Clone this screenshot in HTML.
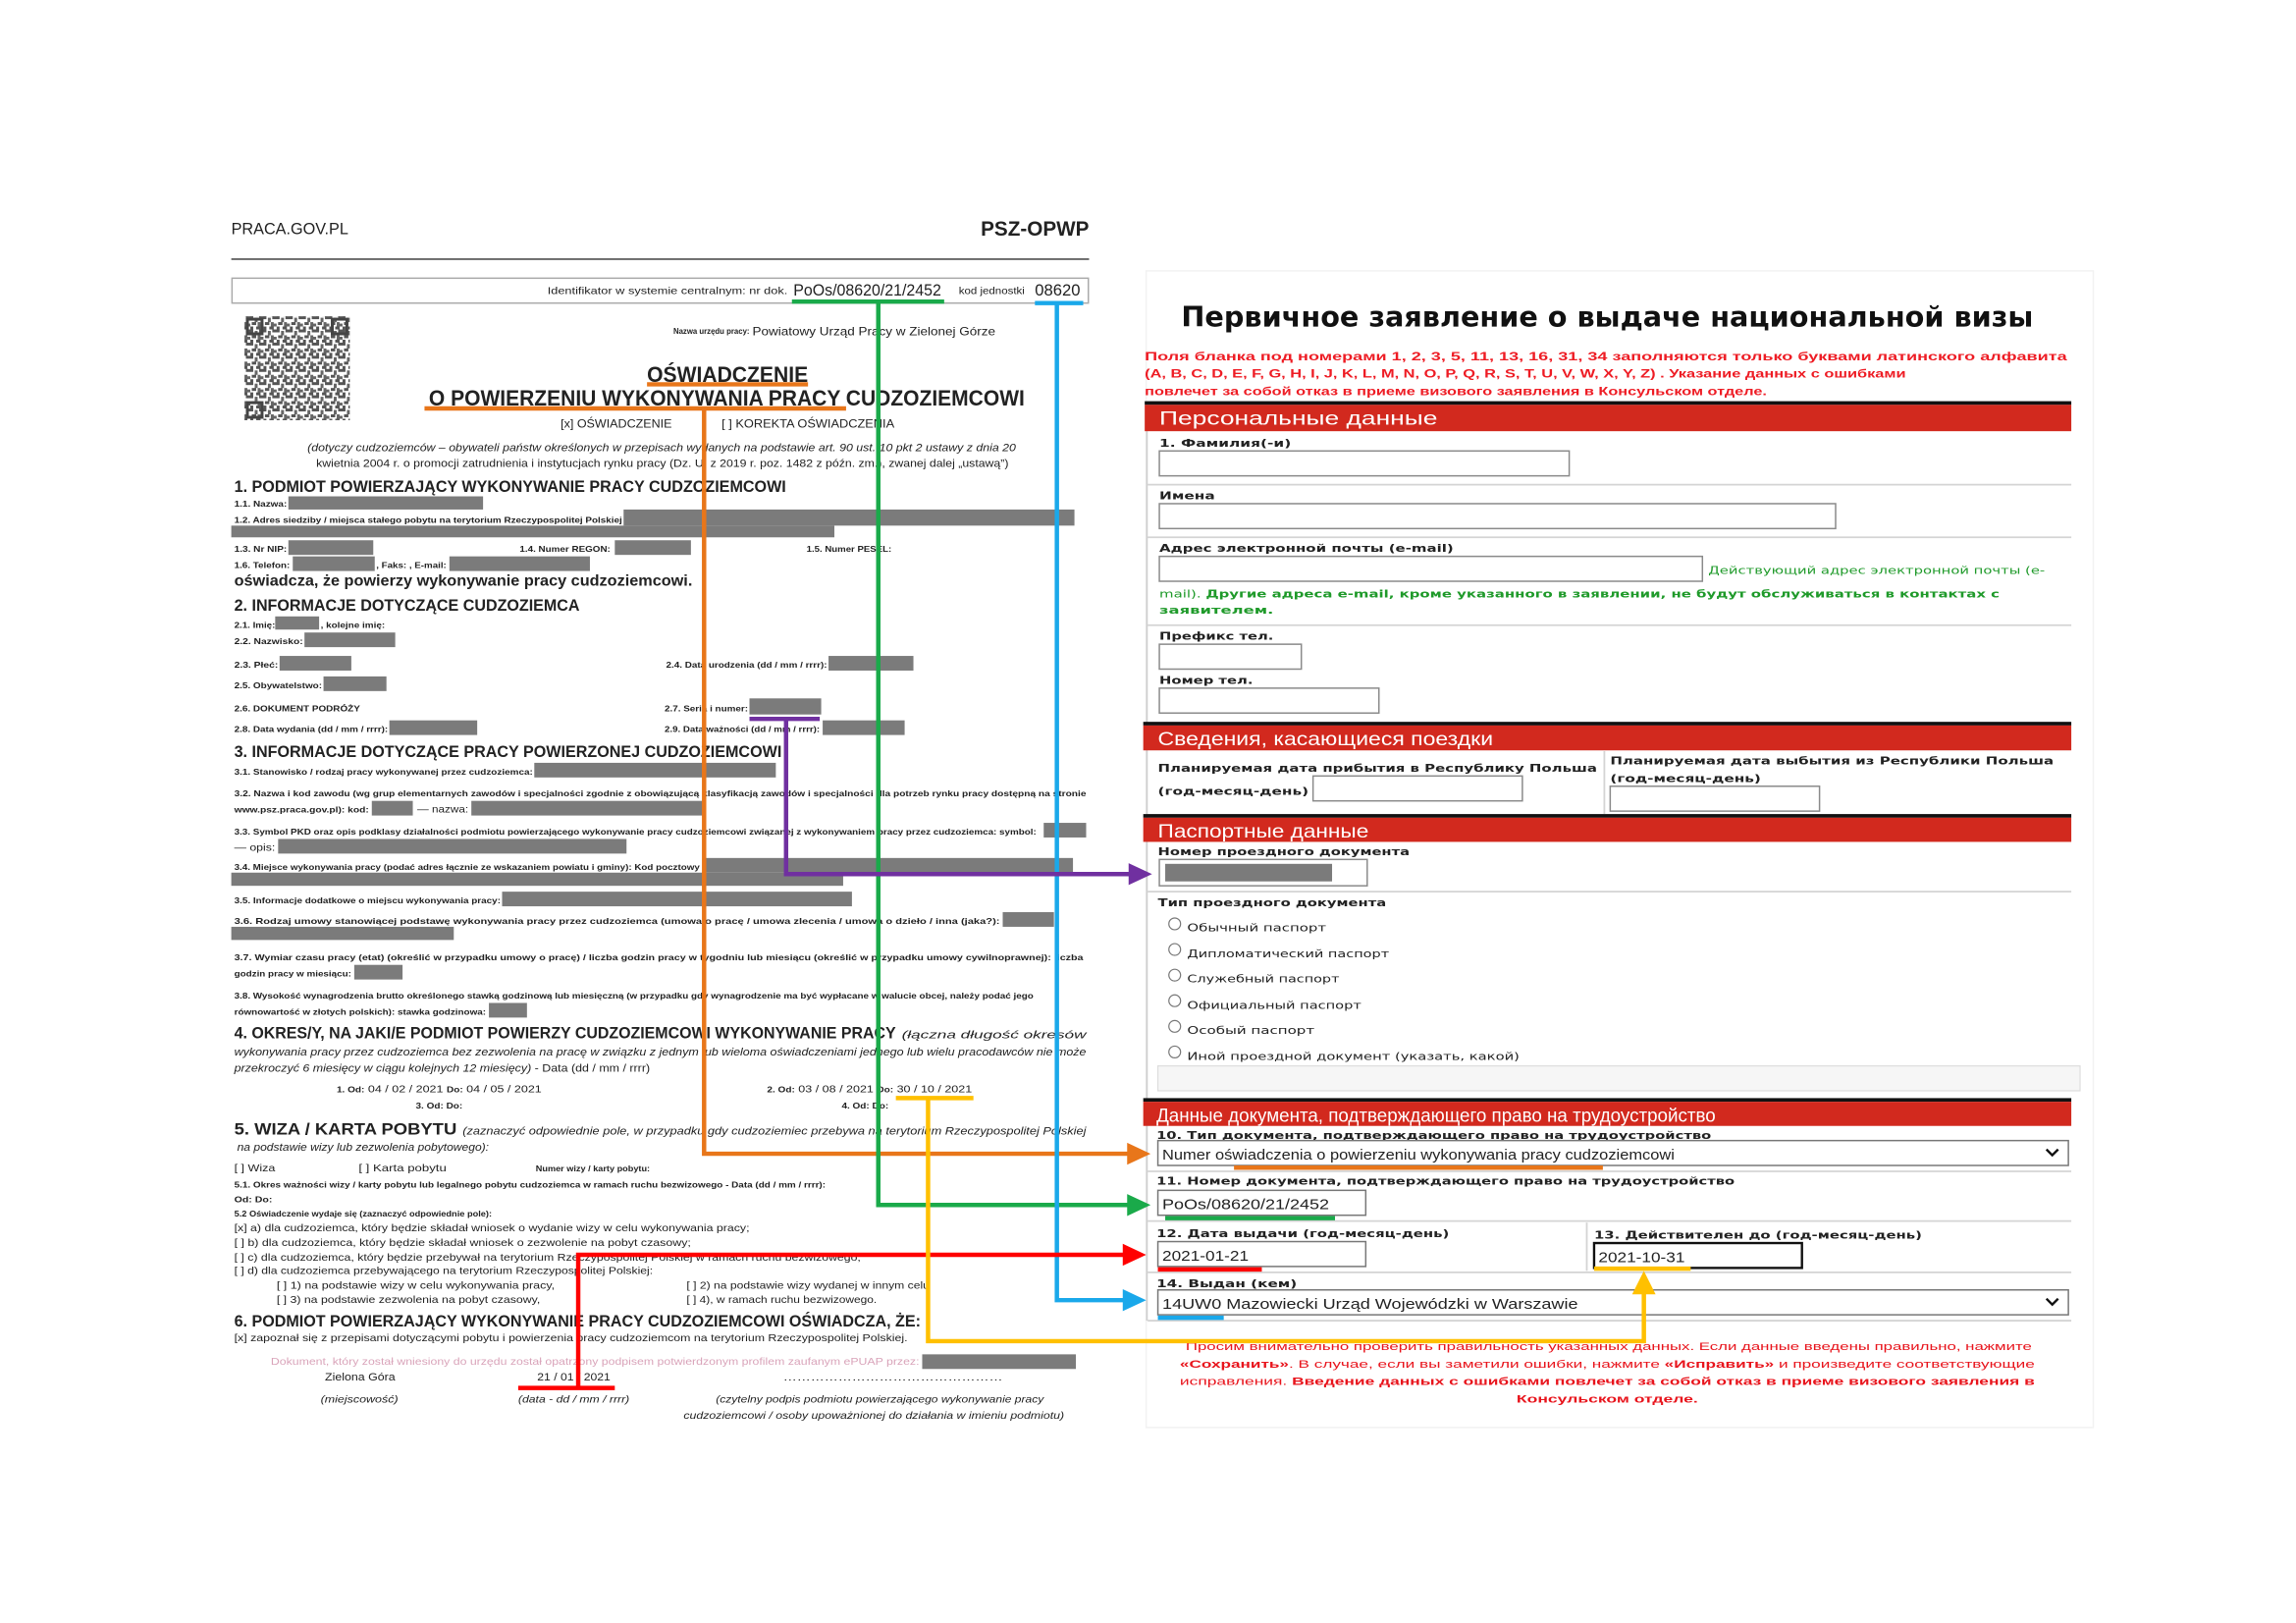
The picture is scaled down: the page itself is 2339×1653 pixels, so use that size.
<!DOCTYPE html>
<html><head><meta charset="utf-8"><style>
html,body{margin:0;padding:0;background:#fff;width:2339px;height:1653px;overflow:hidden}
svg{display:block}
text{font-family:"Liberation Sans","DejaVu Sans",sans-serif;fill:#222}
.b{font-weight:bold}
.i{font-style:italic}
.g{fill:#7b7b7b}
.lb{font-size:5.6px;font-weight:bold}
.rf{font-family:"DejaVu Sans","Liberation Sans",sans-serif}
.rl{font-family:"DejaVu Sans","Liberation Sans",sans-serif;font-size:7.3px;font-weight:bold;fill:#222}
.inp{fill:#fff;stroke:#8a8a8a;stroke-width:1}
.sep{stroke:#d4d4d4;stroke-width:1.2}
.hd{font-family:"Liberation Sans",sans-serif;font-size:13px;fill:#fff}
</style></head><body>
<svg width="2339" height="1653" viewBox="0 0 1568.5 1108.5" preserveAspectRatio="none" xmlns="http://www.w3.org/2000/svg">
<defs>
<pattern id="qr" width="9" height="9" patternUnits="userSpaceOnUse">
<rect width="9" height="9" fill="#fff"/>
<rect x="0" y="0" width="2" height="2" fill="#555"/><rect x="3" y="1" width="2" height="3" fill="#666"/>
<rect x="6" y="0" width="3" height="2" fill="#555"/><rect x="1" y="4" width="3" height="2" fill="#555"/>
<rect x="5" y="4" width="2" height="3" fill="#666"/><rect x="0" y="7" width="2" height="2" fill="#555"/>
<rect x="4" y="7" width="3" height="2" fill="#555"/><rect x="7" y="5" width="2" height="2" fill="#666"/>
</pattern>
</defs>

<!-- ================= LEFT DOCUMENT ================= -->
<text x="158" y="160" font-size="11" textLength="80" lengthAdjust="spacingAndGlyphs" fill="#444">PRACA.GOV.PL</text>
<text x="670" y="161" font-size="14" class="b" textLength="74" lengthAdjust="spacingAndGlyphs">PSZ-OPWP</text>
<line x1="158" y1="177" x2="744" y2="177" stroke="#666" stroke-width="1.2"/>
<rect x="158.5" y="190" width="585" height="17" fill="none" stroke="#aaa" stroke-width="1"/>
<text x="374" y="201" font-size="7" textLength="164" lengthAdjust="spacingAndGlyphs">Identifikator w systemie centralnym:  nr dok.</text>
<text x="542" y="202" font-size="11" textLength="101" lengthAdjust="spacingAndGlyphs">PoOs/08620/21/2452</text>
<text x="655" y="201" font-size="7" textLength="45" lengthAdjust="spacingAndGlyphs">kod jednostki</text>
<text x="707" y="202" font-size="11" textLength="31" lengthAdjust="spacingAndGlyphs">08620</text>

<rect x="167" y="216" width="72" height="71" fill="url(#qr)"/>
<g fill="none" stroke="#444" stroke-width="2"><rect x="169" y="218" width="10" height="10"/><rect x="227" y="218" width="10" height="10"/><rect x="169" y="275" width="10" height="10"/></g>

<text x="460" y="228" font-size="5.6" class="b" textLength="52" lengthAdjust="spacingAndGlyphs">Nazwa urzędu pracy:</text>
<text x="514" y="229" font-size="8" textLength="166" lengthAdjust="spacingAndGlyphs">Powiatowy Urząd Pracy w Zielonej Górze</text>
<text x="442" y="261" font-size="15" class="b" textLength="110" lengthAdjust="spacingAndGlyphs">OŚWIADCZENIE</text>
<text x="293" y="277" font-size="15" class="b" textLength="407" lengthAdjust="spacingAndGlyphs">O POWIERZENIU WYKONYWANIA PRACY CUDZOZIEMCOWI</text>
<text x="383" y="292" font-size="8" textLength="76" lengthAdjust="spacingAndGlyphs">[x] OŚWIADCZENIE</text>
<text x="493" y="292" font-size="8" textLength="118" lengthAdjust="spacingAndGlyphs">[ ]  KOREKTA OŚWIADCZENIA</text>
<text x="210" y="308" font-size="7.5" class="i" textLength="484" lengthAdjust="spacingAndGlyphs">(dotyczy cudzoziemców – obywateli państw określonych w przepisach wydanych na podstawie art. 90 ust. 10 pkt 2 ustawy z dnia 20</text>
<text x="216" y="319" font-size="7.5" textLength="473" lengthAdjust="spacingAndGlyphs">kwietnia 2004 r. o promocji zatrudnienia i instytucjach rynku pracy (Dz. U. z 2019 r. poz. 1482 z późn. zm.), zwanej dalej „ustawą”)</text>

<text x="160" y="336" font-size="11" class="b" textLength="377" lengthAdjust="spacingAndGlyphs">1. PODMIOT POWIERZAJĄCY WYKONYWANIE PRACY CUDZOZIEMCOWI</text>
<text x="160" y="346" class="lb" textLength="36" lengthAdjust="spacingAndGlyphs">1.1. Nazwa:</text><rect x="197" y="339" width="133" height="9" class="g"/>
<text x="160" y="357" class="lb" textLength="265" lengthAdjust="spacingAndGlyphs">1.2. Adres siedziby / miejsca stałego pobytu na terytorium Rzeczypospolitej Polskiej</text><rect x="426" y="348" width="308" height="11" class="g"/><rect x="158" y="359" width="412" height="8" class="g"/>
<text x="160" y="377" class="lb" textLength="36" lengthAdjust="spacingAndGlyphs">1.3. Nr NIP:</text><rect x="197" y="369" width="58" height="10" class="g"/>
<text x="355" y="377" class="lb" textLength="62" lengthAdjust="spacingAndGlyphs">1.4. Numer REGON:</text><rect x="420" y="369" width="52" height="10" class="g"/>
<text x="551" y="377" class="lb" textLength="58" lengthAdjust="spacingAndGlyphs">1.5. Numer PESEL:</text>
<text x="160" y="388" class="lb" textLength="38" lengthAdjust="spacingAndGlyphs">1.6. Telefon:</text><rect x="200" y="380" width="56" height="10" class="g"/>
<text x="257" y="388" class="lb" textLength="48" lengthAdjust="spacingAndGlyphs">, Faks: , E-mail:</text><rect x="307" y="380" width="96" height="10" class="g"/>
<text x="160" y="400" font-size="10.5" class="b" textLength="313" lengthAdjust="spacingAndGlyphs">oświadcza, że powierzy wykonywanie pracy cudzoziemcowi.</text>

<text x="160" y="417" font-size="11" class="b" textLength="236" lengthAdjust="spacingAndGlyphs">2. INFORMACJE DOTYCZĄCE CUDZOZIEMCA</text>
<text x="160" y="429" class="lb" textLength="28" lengthAdjust="spacingAndGlyphs">2.1. Imię:</text><rect x="188" y="421" width="30" height="9" class="g"/><text x="219" y="429" class="lb" textLength="44" lengthAdjust="spacingAndGlyphs">, kolejne imię:</text>
<text x="160" y="440" class="lb" textLength="47" lengthAdjust="spacingAndGlyphs">2.2. Nazwisko:</text><rect x="208" y="432" width="62" height="10" class="g"/>
<text x="160" y="456" class="lb" textLength="30" lengthAdjust="spacingAndGlyphs">2.3. Płeć:</text><rect x="191" y="448" width="49" height="10" class="g"/>
<text x="455" y="456" class="lb" textLength="110" lengthAdjust="spacingAndGlyphs">2.4. Data urodzenia (dd / mm / rrrr):</text><rect x="566" y="448" width="58" height="10" class="g"/>
<text x="160" y="470" class="lb" textLength="60" lengthAdjust="spacingAndGlyphs">2.5. Obywatelstwo:</text><rect x="221" y="462" width="43" height="10" class="g"/>
<text x="160" y="486" class="lb" textLength="86" lengthAdjust="spacingAndGlyphs">2.6. DOKUMENT PODRÓŻY</text>
<text x="454" y="486" class="lb" textLength="57" lengthAdjust="spacingAndGlyphs">2.7. Seria i numer:</text><rect x="512" y="477" width="49" height="11" class="g"/>
<text x="160" y="500" class="lb" textLength="105" lengthAdjust="spacingAndGlyphs">2.8. Data wydania (dd / mm / rrrr):</text><rect x="266" y="492" width="60" height="10" class="g"/>
<text x="454" y="500" class="lb" textLength="106" lengthAdjust="spacingAndGlyphs">2.9. Data ważności (dd / mm / rrrr):</text><rect x="562" y="492" width="56" height="10" class="g"/>

<text x="160" y="517" font-size="11" class="b" textLength="374" lengthAdjust="spacingAndGlyphs">3. INFORMACJE DOTYCZĄCE PRACY POWIERZONEJ CUDZOZIEMCOWI</text>
<text x="160" y="529" class="lb" textLength="204" lengthAdjust="spacingAndGlyphs">3.1. Stanowisko / rodzaj pracy wykonywanej przez cudzoziemca:</text><rect x="365" y="521" width="165" height="10" class="g"/>
<text x="160" y="544" class="lb" textLength="582" lengthAdjust="spacingAndGlyphs">3.2. Nazwa i kod zawodu (wg grup elementarnych zawodów i specjalności zgodnie z obowiązującą klasyfikacją zawodów i specjalności dla potrzeb rynku pracy dostępną na stronie</text>
<text x="160" y="555" class="lb" textLength="92" lengthAdjust="spacingAndGlyphs">www.psz.praca.gov.pl): kod:</text><rect x="254" y="547" width="28" height="10" class="g"/><text x="285" y="555" font-size="7" textLength="35" lengthAdjust="spacingAndGlyphs">— nazwa:</text><rect x="322" y="547" width="160" height="10" class="g"/>
<text x="160" y="570" class="lb" textLength="548" lengthAdjust="spacingAndGlyphs">3.3. Symbol PKD oraz opis podklasy działalności podmiotu powierzającego wykonywanie pracy cudzoziemcowi związanej z wykonywaniem pracy przez cudzoziemca: symbol:</text><rect x="713" y="562" width="29" height="10" class="g"/>
<text x="160" y="581" font-size="7" textLength="28" lengthAdjust="spacingAndGlyphs">— opis:</text><rect x="190" y="573" width="238" height="10" class="g"/>
<text x="160" y="594" class="lb" textLength="318" lengthAdjust="spacingAndGlyphs">3.4. Miejsce wykonywania pracy (podać adres łącznie ze wskazaniem powiatu i gminy): Kod pocztowy</text><rect x="480" y="586" width="253" height="10" class="g"/><rect x="158" y="596" width="418" height="9" class="g"/>
<text x="160" y="617" class="lb" textLength="182" lengthAdjust="spacingAndGlyphs">3.5. Informacje dodatkowe o miejscu wykonywania pracy:</text><rect x="343" y="609" width="239" height="10" class="g"/>
<text x="160" y="631" class="lb" textLength="523" lengthAdjust="spacingAndGlyphs">3.6. Rodzaj  umowy  stanowiącej  podstawę  wykonywania  pracy  przez  cudzoziemca (umowa o pracę / umowa zlecenia / umowa o dzieło / inna (jaka?):</text><rect x="685" y="623" width="35" height="10" class="g"/><rect x="158" y="633" width="152" height="9" class="g"/>
<text x="160" y="656" class="lb" textLength="580" lengthAdjust="spacingAndGlyphs">3.7. Wymiar czasu pracy (etat) (określić w przypadku umowy o pracę)  / liczba godzin pracy w tygodniu lub miesiącu (określić w przypadku umowy cywilnoprawnej): liczba</text>
<text x="160" y="667" class="lb" textLength="80" lengthAdjust="spacingAndGlyphs">godzin pracy w miesiącu:</text><rect x="242" y="659" width="33" height="10" class="g"/>
<text x="160" y="682" class="lb" textLength="546" lengthAdjust="spacingAndGlyphs">3.8. Wysokość wynagrodzenia brutto określonego stawką godzinową lub miesięczną (w przypadku gdy wynagrodzenie ma być wypłacane w walucie obcej, należy podać jego</text>
<text x="160" y="693" class="lb" textLength="172" lengthAdjust="spacingAndGlyphs">równowartość w złotych polskich): stawka godzinowa:</text><rect x="334" y="685" width="26" height="10" class="g"/>

<text x="160" y="709" font-size="11" class="b" textLength="452" lengthAdjust="spacingAndGlyphs">4. OKRES/Y, NA JAKI/E PODMIOT POWIERZY CUDZOZIEMCOWI WYKONYWANIE PRACY</text>
<text x="616" y="709" font-size="7.3" class="i" textLength="126" lengthAdjust="spacingAndGlyphs">(łączna długość okresów</text>
<text x="160" y="721" font-size="7.3" class="i" textLength="582" lengthAdjust="spacingAndGlyphs">wykonywania pracy przez cudzoziemca bez zezwolenia na pracę w związku z jednym lub wieloma oświadczeniami jednego lub wielu pracodawców nie może</text>
<text x="160" y="732" font-size="7.3" textLength="284" lengthAdjust="spacingAndGlyphs"><tspan class="i">przekroczyć 6 miesięcy w ciągu kolejnych 12 miesięcy)</tspan> - Data (dd / mm / rrrr)</text>
<text x="230" y="746" font-size="7" textLength="140" lengthAdjust="spacingAndGlyphs"><tspan class="b" font-size="5.6">1. Od:</tspan> 04 / 02 / 2021  <tspan class="b" font-size="5.6">Do:</tspan> 04 / 05 / 2021</text>
<text x="284" y="757" class="lb" textLength="32" lengthAdjust="spacingAndGlyphs">3. Od:  Do:</text>
<text x="524" y="746" font-size="7" textLength="140" lengthAdjust="spacingAndGlyphs"><tspan class="b" font-size="5.6">2. Od:</tspan> 03 / 08 / 2021  <tspan class="b" font-size="5.6">Do:</tspan> 30 / 10 / 2021</text>
<text x="575" y="757" class="lb" textLength="32" lengthAdjust="spacingAndGlyphs">4. Od:  Do:</text>

<text x="160" y="775" font-size="11" class="b" textLength="152" lengthAdjust="spacingAndGlyphs">5. WIZA / KARTA POBYTU</text>
<text x="316" y="775" font-size="7.3" class="i" textLength="426" lengthAdjust="spacingAndGlyphs">(zaznaczyć  odpowiednie  pole,  w  przypadku   gdy  cudzoziemiec  przebywa  na  terytorium  Rzeczypospolitej  Polskiej</text>
<text x="162" y="786" font-size="7.3" class="i" textLength="172" lengthAdjust="spacingAndGlyphs">na  podstawie  wizy  lub zezwolenia pobytowego):</text>
<text x="160" y="800" font-size="7" textLength="28" lengthAdjust="spacingAndGlyphs">[ ] Wiza</text>
<text x="245" y="800" font-size="7" textLength="60" lengthAdjust="spacingAndGlyphs">[ ] Karta pobytu</text>
<text x="366" y="800" class="lb" textLength="78" lengthAdjust="spacingAndGlyphs">Numer wizy / karty pobytu:</text>
<text x="160" y="811" class="lb" textLength="404" lengthAdjust="spacingAndGlyphs">5.1. Okres ważności wizy / karty pobytu lub legalnego pobytu cudzoziemca w ramach ruchu bezwizowego  - Data (dd / mm / rrrr):</text>
<text x="160" y="821" class="lb" textLength="26" lengthAdjust="spacingAndGlyphs">Od:  Do:</text>
<text x="160" y="831" class="lb" textLength="176" lengthAdjust="spacingAndGlyphs">5.2 Oświadczenie wydaje się (zaznaczyć odpowiednie pole):</text>
<g font-size="7">
<text x="160" y="841" textLength="352" lengthAdjust="spacingAndGlyphs">[x] a) dla cudzoziemca, który będzie składał wniosek o wydanie wizy w celu wykonywania pracy;</text>
<text x="160" y="851" textLength="312" lengthAdjust="spacingAndGlyphs">[ ] b) dla cudzoziemca, który będzie składał wniosek o zezwolenie na pobyt czasowy;</text>
<text x="160" y="861" textLength="428" lengthAdjust="spacingAndGlyphs">[ ] c) dla cudzoziemca, który będzie przebywał na terytorium Rzeczypospolitej Polskiej w ramach ruchu bezwizowego;</text>
<text x="160" y="870" textLength="286" lengthAdjust="spacingAndGlyphs">[ ] d) dla cudzoziemca przebywającego na terytorium Rzeczypospolitej Polskiej:</text>
<text x="189" y="880" textLength="190" lengthAdjust="spacingAndGlyphs">[ ] 1) na podstawie wizy w celu wykonywania pracy,</text>
<text x="469" y="880" textLength="166" lengthAdjust="spacingAndGlyphs">[ ] 2) na podstawie wizy wydanej w innym celu</text>
<text x="189" y="890" textLength="180" lengthAdjust="spacingAndGlyphs">[ ] 3) na podstawie zezwolenia na pobyt czasowy,</text>
<text x="469" y="890" textLength="130" lengthAdjust="spacingAndGlyphs">[ ] 4), w ramach ruchu bezwizowego.</text>
</g>
<text x="160" y="906" font-size="11" class="b" textLength="469" lengthAdjust="spacingAndGlyphs">6. PODMIOT POWIERZAJĄCY WYKONYWANIE PRACY CUDZOZIEMCOWI OŚWIADCZA, ŻE:</text>
<text x="160" y="916" font-size="7" textLength="460" lengthAdjust="spacingAndGlyphs">[x] zapoznał się z przepisami dotyczącymi pobytu i powierzenia pracy cudzoziemcom na terytorium Rzeczypospolitej Polskiej.</text>
<text x="185" y="932" font-size="7" textLength="443" lengthAdjust="spacingAndGlyphs" style="fill:#d9a3b9">Dokument, który został wniesiony do urzędu został opatrzony podpisem potwierdzonym profilem zaufanym ePUAP przez:</text>
<rect x="630" y="925" width="105" height="10" class="g"/>
<text x="222" y="943" font-size="7.5" textLength="48" lengthAdjust="spacingAndGlyphs">Zielona Góra</text>
<text x="367" y="943" font-size="7.5" textLength="50" lengthAdjust="spacingAndGlyphs">21 / 01 / 2021</text>
<text x="535" y="943" font-size="7" textLength="150" lengthAdjust="spacingAndGlyphs">…………………………………………</text>
<text x="219" y="958" font-size="7" class="i" textLength="53" lengthAdjust="spacingAndGlyphs">(miejscowość)</text>
<text x="354" y="958" font-size="7" class="i" textLength="76" lengthAdjust="spacingAndGlyphs">(data - dd / mm / rrrr)</text>
<text x="489" y="958" font-size="7" class="i" textLength="224" lengthAdjust="spacingAndGlyphs">(czytelny podpis podmiotu powierzającego wykonywanie pracy</text>
<text x="467" y="969" font-size="7" class="i" textLength="260" lengthAdjust="spacingAndGlyphs">cudzoziemcowi / osoby upoważnionej do działania w imieniu podmiotu)</text>

<!-- ================= RIGHT FORM ================= -->
<rect x="783" y="185" width="647" height="790" fill="none" stroke="#f2f2f2" stroke-width="1"/>
<text x="807" y="223" font-size="19" class="b rf" textLength="582" lengthAdjust="spacingAndGlyphs" style="fill:#111">Первичное заявление о выдаче национальной визы</text>
<g class="rf b" font-size="8">
<text x="782" y="246" textLength="630" lengthAdjust="spacingAndGlyphs" style="fill:#ee1c24">Поля бланка под номерами 1, 2, 3, 5, 11, 13, 16, 31, 34 заполняются только буквами латинского алфавита</text>
<text x="782" y="258" textLength="520" lengthAdjust="spacingAndGlyphs" style="fill:#ee1c24">(A, B, C, D, E, F, G, H, I, J, K, L, M, N, O, P, Q, R, S, T, U, V, W, X, Y, Z) . Указание данных с ошибками</text>
<text x="782" y="270" textLength="425" lengthAdjust="spacingAndGlyphs" style="fill:#ee1c24">повлечет за собой отказ в приеме визового заявления в Консульском отделе.</text>
</g>
<line x1="783.5" y1="294" x2="783.5" y2="902" stroke="#cfcfcf" stroke-width="1.2"/>

<rect x="782" y="274" width="633" height="2.5" fill="#111"/><rect x="782" y="276.5" width="633" height="18" fill="#d2291e"/>
<text x="792" y="290" class="hd" textLength="190" lengthAdjust="spacingAndGlyphs">Персональные данные</text>
<text x="792" y="305" class="rl" textLength="90" lengthAdjust="spacingAndGlyphs">1. Фамилия(-и)</text>
<rect x="792" y="308" width="280" height="17" class="inp"/>
<line x1="784" y1="331" x2="1415" y2="331" class="sep"/>
<text x="792" y="341" class="rl" textLength="38" lengthAdjust="spacingAndGlyphs">Имена</text>
<rect x="792" y="344" width="462" height="17" class="inp"/>
<line x1="784" y1="367" x2="1415" y2="367" class="sep"/>
<text x="792" y="377" class="rl" textLength="201" lengthAdjust="spacingAndGlyphs">Адрес электронной почты (e-mail)</text>
<rect x="792" y="380" width="371" height="17" class="inp"/>
<text x="1167" y="392" font-size="7.3" class="rf" textLength="230" lengthAdjust="spacingAndGlyphs" style="fill:#1f9a2a">Действующий адрес электронной почты (e-</text>
<text x="792" y="408" font-size="7.3" class="rf" textLength="574" lengthAdjust="spacingAndGlyphs" style="fill:#1f9a2a">mail). <tspan font-weight="bold">Другие адреса e-mail, кроме указанного в заявлении, не будут обслуживаться в контактах с</tspan></text>
<text x="792" y="419" font-size="7.3" class="rf b" textLength="78" lengthAdjust="spacingAndGlyphs" style="fill:#1f9a2a">заявителем.</text>
<line x1="784" y1="427" x2="1415" y2="427" class="sep"/>
<text x="792" y="437" class="rl" textLength="78" lengthAdjust="spacingAndGlyphs">Префикс тел.</text>
<rect x="792" y="440" width="97" height="17" class="inp"/>
<text x="792" y="467" class="rl" textLength="64" lengthAdjust="spacingAndGlyphs">Номер тел.</text>
<rect x="792" y="470" width="150" height="17" class="inp"/>

<rect x="781" y="493" width="634" height="2.5" fill="#111"/><rect x="781" y="495.5" width="634" height="17" fill="#d2291e"/>
<text x="791" y="509" class="hd" textLength="229" lengthAdjust="spacingAndGlyphs">Сведения, касающиеся поездки</text>
<text x="791" y="527" class="rl" textLength="300" lengthAdjust="spacingAndGlyphs">Планируемая дата прибытия в Республику Польша</text>
<text x="791" y="543" class="rl" textLength="103" lengthAdjust="spacingAndGlyphs">(год-месяц-день)</text>
<rect x="897" y="530" width="143" height="17" class="inp"/>
<line x1="1096" y1="513" x2="1096" y2="556" class="sep"/>
<text x="1100" y="522" class="rl" textLength="303" lengthAdjust="spacingAndGlyphs">Планируемая дата выбытия из Республики Польша</text>
<text x="1100" y="534" class="rl" textLength="103" lengthAdjust="spacingAndGlyphs">(год-месяц-день)</text>
<rect x="1100" y="537" width="143" height="17" class="inp"/>

<rect x="781" y="556" width="634" height="2.5" fill="#111"/><rect x="781" y="558.5" width="634" height="16.5" fill="#d2291e"/>
<text x="791" y="572" class="hd" textLength="144" lengthAdjust="spacingAndGlyphs">Паспортные данные</text>
<text x="791" y="584" class="rl" textLength="172" lengthAdjust="spacingAndGlyphs">Номер проездного документа</text>
<rect x="792" y="587" width="142" height="18" class="inp"/>
<rect x="796" y="590" width="114" height="12" fill="#7b7b7b"/>
<line x1="784" y1="609" x2="1415" y2="609" class="sep"/>
<text x="791" y="619" class="rl" textLength="156" lengthAdjust="spacingAndGlyphs">Тип проездного документа</text>
<g>
<circle cx="802.5" cy="631" r="4" fill="#fff" stroke="#777" stroke-width="0.8"/><text x="811" y="636" class="rf" font-size="7" textLength="95" lengthAdjust="spacingAndGlyphs">Обычный паспорт</text>
<circle cx="802.5" cy="648.5" r="4" fill="#fff" stroke="#777" stroke-width="0.8"/><text x="811" y="654" class="rf" font-size="7" textLength="138" lengthAdjust="spacingAndGlyphs">Дипломатический паспорт</text>
<circle cx="802.5" cy="666" r="4" fill="#fff" stroke="#777" stroke-width="0.8"/><text x="811" y="671" class="rf" font-size="7" textLength="104" lengthAdjust="spacingAndGlyphs">Служебный паспорт</text>
<circle cx="802.5" cy="683.5" r="4" fill="#fff" stroke="#777" stroke-width="0.8"/><text x="811" y="689" class="rf" font-size="7" textLength="119" lengthAdjust="spacingAndGlyphs">Официальный паспорт</text>
<circle cx="802.5" cy="701" r="4" fill="#fff" stroke="#777" stroke-width="0.8"/><text x="811" y="706" class="rf" font-size="7" textLength="87" lengthAdjust="spacingAndGlyphs">Особый паспорт</text>
<circle cx="802.5" cy="718.5" r="4" fill="#fff" stroke="#777" stroke-width="0.8"/><text x="811" y="724" class="rf" font-size="7" textLength="227" lengthAdjust="spacingAndGlyphs">Иной проездной документ (указать, какой)</text>
</g>
<rect x="791" y="728" width="630" height="17" fill="#f6f6f6" stroke="#ddd" stroke-width="0.8"/>

<rect x="781" y="750" width="634" height="2.5" fill="#111"/><rect x="781" y="752.5" width="634" height="16.5" fill="#d2291e"/>
<text x="790" y="766" class="hd" textLength="382" lengthAdjust="spacingAndGlyphs">Данные документа, подтверждающего право на трудоустройство</text>
<text x="790" y="778" class="rl" textLength="379" lengthAdjust="spacingAndGlyphs">10. Тип документа, подтверждающего право на трудоустройство</text>
<rect x="791" y="779" width="622" height="17" class="inp" style="stroke:#777"/>
<text x="794" y="792" font-size="10" textLength="350" lengthAdjust="spacingAndGlyphs">Numer oświadczenia o powierzeniu wykonywania pracy cudzoziemcowi</text>
<path d="M1398 785 l4 4 l4 -4" fill="none" stroke="#111" stroke-width="1.6"/>
<line x1="784" y1="800" x2="1415" y2="800" class="sep"/>
<text x="790" y="809" class="rl" textLength="395" lengthAdjust="spacingAndGlyphs">11. Номер документа, подтверждающего право на трудоустройство</text>
<rect x="791" y="813" width="142" height="17" class="inp" style="stroke:#777"/>
<text x="794" y="826" font-size="10" textLength="114" lengthAdjust="spacingAndGlyphs">PoOs/08620/21/2452</text>
<line x1="784" y1="834" x2="1415" y2="834" class="sep"/>
<text x="790" y="845" class="rl" textLength="200" lengthAdjust="spacingAndGlyphs">12. Дата выдачи (год-месяц-день)</text>
<rect x="791" y="848" width="142" height="17" class="inp" style="stroke:#777"/>
<text x="794" y="861" font-size="10" textLength="59" lengthAdjust="spacingAndGlyphs">2021-01-21</text>
<line x1="1084" y1="835" x2="1084" y2="868" class="sep"/>
<text x="1089" y="846" class="rl" textLength="224" lengthAdjust="spacingAndGlyphs">13. Действителен до (год-месяц-день)</text>
<rect x="1089" y="849" width="142" height="17" fill="#fff" stroke="#111" stroke-width="1.6"/>
<text x="1092" y="862" font-size="10" textLength="59" lengthAdjust="spacingAndGlyphs">2021-10-31</text>
<line x1="784" y1="869" x2="1415" y2="869" class="sep"/>
<text x="790" y="879" class="rl" textLength="96" lengthAdjust="spacingAndGlyphs">14. Выдан (кем)</text>
<rect x="791" y="881" width="622" height="17" class="inp" style="stroke:#777"/>
<text x="794" y="894" font-size="10" textLength="284" lengthAdjust="spacingAndGlyphs">14UW0 Mazowiecki Urząd Wojewódzki w Warszawie</text>
<path d="M1398 887 l4 4 l4 -4" fill="none" stroke="#111" stroke-width="1.6"/>
<line x1="784" y1="902" x2="1415" y2="902" class="sep"/>

<g class="rf" font-size="7.5">
<text x="810" y="922" textLength="578" lengthAdjust="spacingAndGlyphs" style="fill:#e8141c">Просим внимательно проверить правильность указанных данных. Если данные введены правильно, нажмите</text>
<text x="806" y="934" textLength="584" lengthAdjust="spacingAndGlyphs" style="fill:#e8141c"><tspan font-weight="bold">«Сохранить»</tspan>. В случае, если вы заметили ошибки, нажмите <tspan font-weight="bold">«Исправить»</tspan> и произведите соответствующие</text>
<text x="806" y="946" textLength="584" lengthAdjust="spacingAndGlyphs" style="fill:#e8141c">исправления. <tspan font-weight="bold">Введение данных с ошибками повлечет за собой отказ в приеме визового заявления в</tspan></text>
<text x="1036" y="958" font-weight="bold" textLength="124" lengthAdjust="spacingAndGlyphs" style="fill:#e8141c">Консульском отделе.</text>
</g>

<!-- ================= CONNECTORS ================= -->
<g fill="none" stroke-width="3" stroke-linejoin="miter">
<line x1="442" y1="262.5" x2="552" y2="262.5" stroke="#e8761a"/>
<line x1="290" y1="279" x2="578" y2="279" stroke="#e8761a"/>
<line x1="541" y1="206" x2="645" y2="206" stroke="#1aaa4a"/>
<line x1="707" y1="207" x2="740" y2="207" stroke="#1aa8ea"/>
<line x1="512" y1="491" x2="560" y2="491" stroke="#7030a0"/>
<line x1="612" y1="750" x2="665" y2="750" stroke="#ffc000"/>
<line x1="354" y1="948" x2="420" y2="948" stroke="#ff0000"/>
<line x1="843" y1="797.5" x2="1095" y2="797.5" stroke="#e8761a"/>
<line x1="796" y1="832" x2="912" y2="832" stroke="#1aaa4a"/>
<line x1="791" y1="867" x2="862" y2="867" stroke="#ff0000"/>
<line x1="1089" y1="866.5" x2="1155" y2="866.5" stroke="#ffc000"/>
<line x1="791" y1="900" x2="836" y2="900" stroke="#1aa8ea"/>
<polyline points="481,279 481,788 772,788" stroke="#e8761a"/>
<polyline points="600,206 600,823 772,823" stroke="#1aaa4a"/>
<polyline points="722,207 722,888 769,888" stroke="#1aa8ea"/>
<polyline points="537,491 537,597 773,597" stroke="#7030a0"/>
<polyline points="395,948 395,857 769,857" stroke="#ff0000"/>
<polyline points="634,750 634,916 1123,916 1123,882" stroke="#ffc000"/>
</g>
<polygon points="786,788 770,780.5 770,795.5" fill="#e8761a"/>
<polygon points="786,823 770,815.5 770,830.5" fill="#1aaa4a"/>
<polygon points="783,888 767,880.5 767,895.5" fill="#1aa8ea"/>
<polygon points="787,597 771,589.5 771,604.5" fill="#7030a0"/>
<polygon points="783,857 767,849.5 767,864.5" fill="#ff0000"/>
<polygon points="1123,868 1115,884 1131,884" fill="#ffc000"/>
</svg>
</body></html>
